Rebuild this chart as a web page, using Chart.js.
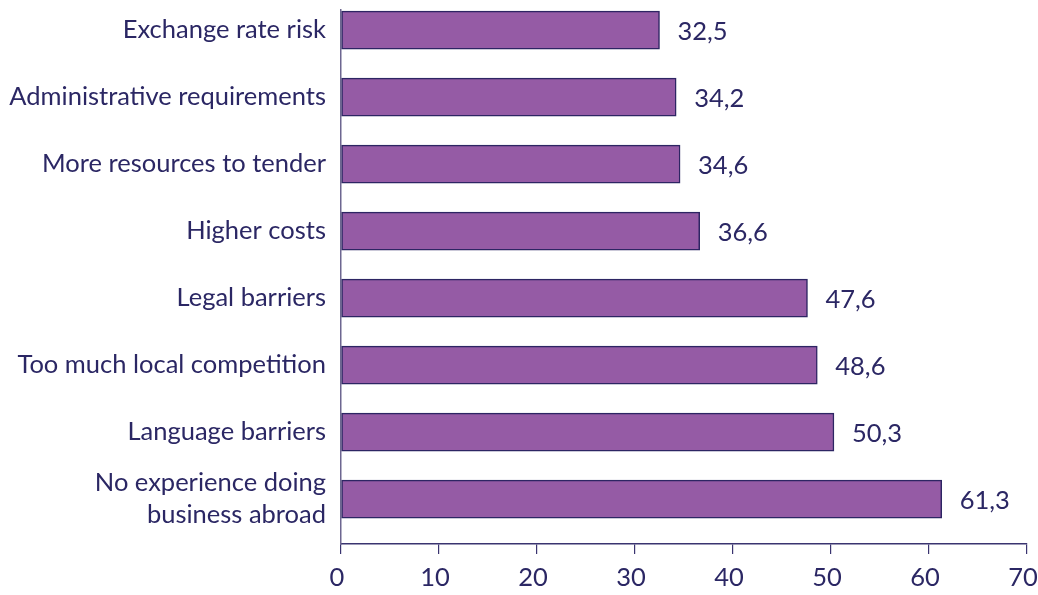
<!DOCTYPE html>
<html>
<head>
<meta charset="utf-8">
<script src="https://cdn.jsdelivr.net/npm/chart.js@4"></script>
<style>
html,body{margin:0;padding:0;background:#fff;}
#wrap{width:1038px;height:595px;position:relative;}
</style>
</head>
<body>
<div id="wrap"><canvas id="c"></canvas></div>
<script>
const categories = [
  "Exchange rate risk",
  "Administrative requirements",
  "More resources to tender",
  "Higher costs",
  "Legal barriers",
  "Too much local competition",
  "Language barriers",
  ["No experience doing", "business abroad"]
];
const values = [32.5, 34.2, 34.6, 36.6, 47.6, 48.6, 50.3, 61.3];
const xTicks = [0, 10, 20, 30, 40, 50, 60, 70];

const textColor = '#2b2764';
const fontFamily = 'Lato, "Open Sans", sans-serif';
const fontSize = 25.5;

const valueLabels = {
  id: 'valueLabels',
  afterDatasetsDraw(chart) {
    const ctx = chart.ctx;
    const meta = chart.getDatasetMeta(0);
    ctx.save();
    ctx.font = fontSize + 'px ' + fontFamily;
    ctx.fillStyle = textColor;
    ctx.textAlign = 'left';
    ctx.textBaseline = 'middle';
    meta.data.forEach((bar, i) => {
      const txt = values[i].toFixed(1).replace('.', ',');
      ctx.fillText(txt, bar.x + 18, bar.y + 2);
    });
    ctx.restore();
  }
};

new Chart(document.getElementById('c'), {
  type: 'bar',
  data: {
    datasets: [{
      data: values.map((v, i) => ({ x: v, y: i })),
      backgroundColor: '#955ba5',
      borderColor: '#2d2563',
      borderWidth: 1.5,
      barThickness: 38,
      borderSkipped: false
    }]
  },
  options: {
    indexAxis: 'y',
    responsive: true,
    maintainAspectRatio: false,
    animation: false,
    layout: { padding: { top: 10, bottom: 0, right: 0, left: 0 } },
    plugins: { legend: { display: false }, tooltip: { enabled: false } },
    scales: {
      x: {
        type: 'linear',
        min: xTicks[0],
        max: xTicks[xTicks.length - 1],
        afterBuildTicks: (s) => { s.ticks = xTicks.map(v => ({ value: v })); },
        afterFit: (s) => { s.paddingRight = 11; s.paddingLeft = 0; s.height = 51; },
        border: { display: true, color: '#3a3470', width: 1.5 },
        grid: { drawOnChartArea: false, drawTicks: true, tickLength: 10, color: '#3a3470', lineWidth: 1.2 },
        ticks: { color: textColor, font: { family: fontFamily, size: fontSize }, padding: 8, maxRotation: 0, labelOffset: -4 }
      },
      y: {
        type: 'linear',
        reverse: true,
        offset: false,
        min: -0.3,
        max: 7.67,
        afterBuildTicks: (s) => { s.ticks = categories.map((c, i) => ({ value: i })); },
        afterFit: (s) => { s.width = 341; s.paddingTop = 0; s.paddingBottom = 0; },
        border: { display: true, color: '#6d6690', width: 1.5 },
        grid: { display: false, drawTicks: false, offset: false },
        ticks: {
          color: textColor,
          font: { family: fontFamily, size: fontSize, lineHeight: 1.25 },
          padding: 15,
          autoSkip: false,
          callback: (v) => categories[v]
        }
      }
    }
  },
  plugins: [valueLabels]
});
</script>
</body>
</html>
